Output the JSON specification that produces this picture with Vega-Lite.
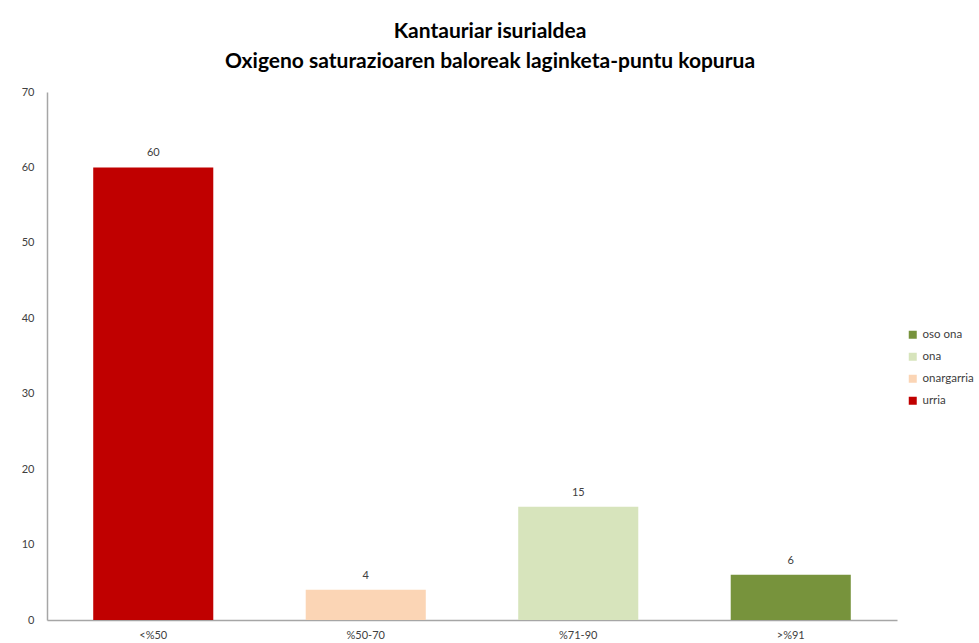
{
  "$schema": "https://vega.github.io/schema/vega-lite/v6.json",
  "width": 850,
  "height": 528,
  "autosize": {"type": "none"},
  "padding": {"left": 47, "top": 92, "right": 82, "bottom": 23},
  "background": "white",
  "title": {
    "text": ["Kantauriar isurialdea", "Oxigeno saturazioaren baloreak laginketa-puntu kopurua"],
    "font": "Lato",
    "fontSize": 21,
    "fontWeight": "bold",
    "color": "#000000",
    "lineHeight": 30,
    "anchor": "middle",
    "dx": 18,
    "offset": 14
  },
  "data": {
    "values": [
      {"tartea": "<%50", "kopurua": 60, "egoera": "urria"},
      {"tartea": "%50-70", "kopurua": 4, "egoera": "onargarria"},
      {"tartea": "%71-90", "kopurua": 15, "egoera": "ona"},
      {"tartea": ">%91", "kopurua": 6, "egoera": "oso ona"}
    ]
  },
  "config": {
    "view": {"stroke": null},
    "font": "Lato"
  },
  "encoding": {
    "x": {
      "field": "tartea",
      "type": "nominal",
      "sort": ["<%50", "%50-70", "%71-90", ">%91"],
      "scale": {"paddingInner": 0.435, "paddingOuter": 0.2175},
      "axis": {
        "title": null,
        "labelAngle": 0,
        "labelFontSize": 11,
        "labelColor": "#404040",
        "labelPadding": 9,
        "domainColor": "#a6a6a6",
        "domainWidth": 1.5,
        "ticks": false
      }
    },
    "y": {
      "field": "kopurua",
      "type": "quantitative",
      "scale": {"domain": [0, 70]},
      "axis": {
        "title": null,
        "values": [0, 10, 20, 30, 40, 50, 60, 70],
        "grid": false,
        "ticks": false,
        "labelFontSize": 11,
        "labelColor": "#404040",
        "labelPadding": 13,
        "domainColor": "#a6a6a6",
        "domainWidth": 1.5
      }
    }
  },
  "layer": [
    {
      "mark": {"type": "bar"},
      "encoding": {
        "color": {
          "field": "egoera",
          "type": "nominal",
          "scale": {
            "domain": ["oso ona", "ona", "onargarria", "urria"],
            "range": ["#77933C", "#D7E4BC", "#FBD5B5", "#C00000"]
          },
          "legend": {
            "title": null,
            "orient": "none",
            "legendX": 860,
            "legendY": 237,
            "symbolType": "square",
            "symbolSize": 64,
            "symbolStrokeWidth": 0,
            "labelFontSize": 11.5,
            "labelColor": "#404040",
            "rowPadding": 9,
            "labelOffset": 4
          }
        }
      }
    },
    {
      "mark": {"type": "text", "dy": -14, "fontSize": 11, "color": "#404040"},
      "encoding": {"text": {"field": "kopurua", "type": "quantitative"}}
    }
  ]
}
